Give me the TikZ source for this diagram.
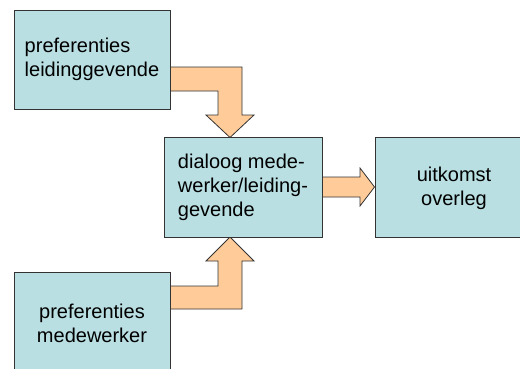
\documentclass[tikz,border=0pt]{standalone}
\usepackage{fontspec}
\setmainfont{Liberation Sans}
\definecolor{boxfill}{HTML}{B9DFE3}
\definecolor{arrowfill}{HTML}{FFCC99}
\definecolor{edge}{HTML}{333333}
\begin{document}
\begin{tikzpicture}[x=1pt,y=-1pt,
  boxbody/.style={draw=edge,fill=boxfill,line width=0.9pt},
  box/.style={boxbody,rectangle,inner sep=0pt,
    minimum width=156pt,minimum height=99pt,
    font=\fontsize{20pt}{24pt}\selectfont},
  boxtext/.style={rectangle,inner sep=0pt,
    minimum width=158pt,minimum height=100pt,
    font=\fontsize{20pt}{24pt}\selectfont},
  blockarrow/.style={draw=edge,fill=arrowfill,line width=0.8pt,line join=miter}]
\useasboundingbox (0,0) rectangle (520,368);
% block arrows (drawn first, boxes cover their ends)
\draw[blockarrow] (170,67) -- (242,67) -- (242,115) -- (254,115) -- (230,137.5)
  -- (206,115) -- (218,115) -- (218,91) -- (170,91) -- cycle;
\draw[blockarrow] (322,177) -- (360,177) -- (360,168) -- (374.5,187) -- (360,206)
  -- (360,197) -- (322,197) -- cycle;
\draw[blockarrow] (170,309) -- (242,309) -- (242,261) -- (254,261) -- (230,237)
  -- (206,261) -- (218,261) -- (218,286) -- (170,286) -- cycle;
% boxes
\node[box,align=left] (lg) at (92,59.5) {preferenties\\leidinggevende};
\node[box,align=left,minimum width=158pt,minimum height=100pt] (dia) at (243,187)
  {dialoog mede-\\werker/leiding-\\gevende};
% right box runs off the right edge of the picture
\coordinate (uitnw) at (375,137);
\fill[boxfill] (uitnw) rectangle ++(200,100);
\draw[edge,line width=0.9pt] (575,137) -- (uitnw) -- ++(0,100) -- (575,237);
\node[boxtext,align=center] (uit) at (454,188) {uitkomst\\overleg};
% bottom box runs off the bottom edge of the picture
\coordinate (mwnw) at (14,272);
\fill[boxfill] (mwnw) rectangle ++(156,130);
\draw[edge,line width=0.9pt] (14,402) -- (mwnw) -- ++(156,0) -- (170,402);
\node[boxtext,align=center,minimum width=156pt,minimum height=99pt] (mw) at (92,323.5)
  {preferenties\\medewerker};
\end{tikzpicture}
\end{document}
